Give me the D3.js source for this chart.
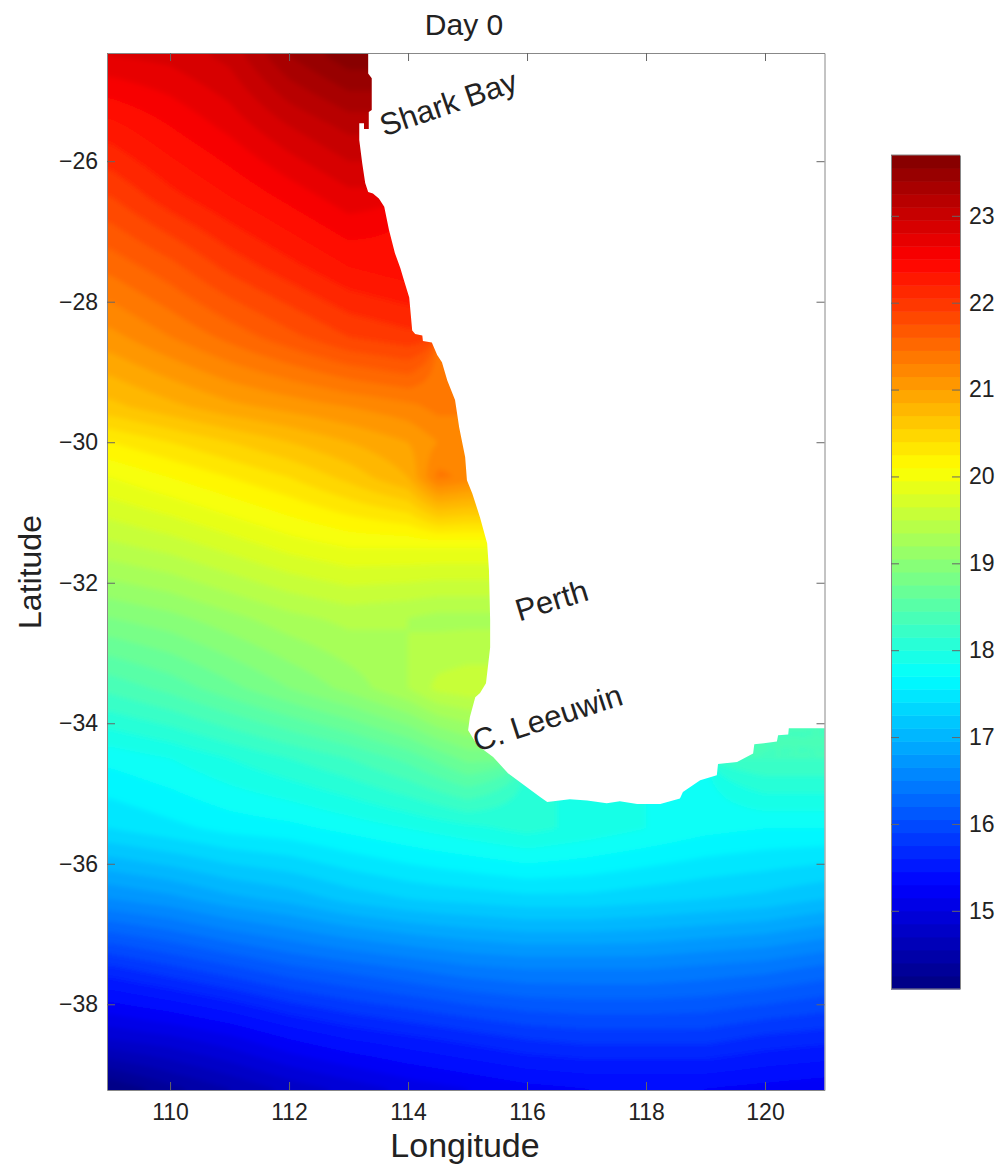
<!DOCTYPE html>
<html lang="en">
<head>
<meta charset="UTF-8">
<title>Day 0</title>
<script src="https://d3js.org/d3.v7.min.js"></script>
<style>
    body { margin: 0; background: #fff; font-family: "Liberation Sans", Arial, sans-serif; }
    svg { display: block; }
    text { fill: #222; }
    .axis path { stroke: #888; }
    .axis line { stroke: #666; }
    .axis text { font-size: 23px; font-family: "Liberation Sans", Arial, sans-serif; fill: #222; }
</style>
</head>
<body>
<div id="chart"></div>
<script>
// temperature, null = land
const lons = [109, 110, 111, 112, 113, 114, 114.5, 115, 116, 117, 118, 119, 120, 121];
const lats = [-24.5, -25.5, -26.5, -27.5, -28.5, -29.5, -30, -30.5, -31.5, -32.5, -33.5, -34.5, -35.5, -36.5, -37.5, -38.5, -39.2];
const n = null;
const tempRows = [
    [22.8, 22.85, 23.0, 23.4, 23.65, n, n, n, n, n, n, n, n, n],
    [22.3, 22.5, 22.7, 22.95, 23.15, n, n, n, n, n, n, n, n, n],
    [21.9, 22.15, 22.35, 22.55, 22.75, n, n, n, n, n, n, n, n, n],
    [21.5, 21.7, 21.95, 22.15, 22.35, 22.45, n, n, n, n, n, n, n, n],
    [21.1, 21.3, 21.5, 21.7, 21.9, 22.0, n, n, n, n, n, n, n, n],
    [20.65, 20.8, 20.95, 21.05, 21.15, 21.25, 21.35, n, n, n, n, n, n, n],
    [20.25, 20.4, 20.55, 20.7, 20.85, 21.0, 21.15, 21.3, n, n, n, n, n, n],
    [19.95, 20.1, 20.25, 20.4, 20.6, 20.85, 21.35, 21.25, n, n, n, n, n, n],
    [19.45, 19.55, 19.7, 19.85, 19.95, 19.95, 19.95, 19.95, n, n, n, n, n, n],
    [18.9, 19.0, 19.15, 19.3, 19.4, 19.35, 19.3, 19.3, n, n, n, n, n, n],
    [18.35, 18.5, 18.7, 18.9, 19.1, 19.35, 19.55, 19.6, n, n, n, n, n, n],
    [17.75, 17.85, 18.0, 18.15, 18.3, 18.5, 18.65, 18.8, n, n, n, n, 18.3, 18.3],
    [17.4, 17.5, 17.6, 17.65, 17.75, 17.85, 17.9, 17.95, 18.05, 17.95, 17.85, 17.75, 17.7, 17.7],
    [16.65, 16.75, 16.9, 17.0, 17.15, 17.25, 17.28, 17.3, 17.35, 17.35, 17.3, 17.25, 17.2, 17.1],
    [15.7, 15.85, 16.0, 16.15, 16.25, 16.35, 16.4, 16.45, 16.5, 16.5, 16.5, 16.45, 16.4, 16.3],
    [14.85, 14.95, 15.1, 15.3, 15.45, 15.55, 15.6, 15.65, 15.75, 15.8, 15.8, 15.8, 15.7, 15.65],
    [14.1, 14.35, 14.55, 14.75, 14.9, 15.05, 15.1, 15.15, 15.25, 15.3, 15.3, 15.3, 15.25, 15.2]
];

// coastline, north to south then east along the south coast
const coast = [
    [113.33, -24.46], [113.33, -24.75], [113.39, -24.82], [113.39, -25.27], [113.34, -25.30], [113.34, -25.54],
    [113.26, -25.54], [113.26, -25.46], [113.18, -25.46], [113.18, -25.70], [113.23, -26.03], [113.28, -26.31],
    [113.33, -26.44], [113.41, -26.46], [113.51, -26.53], [113.60, -26.65], [113.68, -26.98], [113.78, -27.31],
    [113.87, -27.52], [113.93, -27.69], [114.02, -27.94], [114.07, -28.41], [114.12, -28.46], [114.24, -28.48],
    [114.25, -28.56], [114.40, -28.58], [114.49, -28.76], [114.57, -28.86], [114.66, -29.12], [114.79, -29.40],
    [114.86, -29.79], [114.96, -30.21], [114.99, -30.54], [115.08, -30.73], [115.21, -31.07], [115.33, -31.44],
    [115.36, -31.82], [115.38, -32.53], [115.38, -32.92], [115.31, -33.43], [115.21, -33.57], [115.13, -33.63],
    [115.04, -33.91], [115.01, -34.10], [115.16, -34.31], [115.43, -34.48], [115.68, -34.71], [116.22, -35.05],
    [116.34, -35.12], [116.72, -35.08], [117.01, -35.10], [117.34, -35.14], [117.56, -35.11], [117.85, -35.15],
    [118.24, -35.15], [118.57, -35.07], [118.62, -34.98], [118.91, -34.81], [119.19, -34.74], [119.21, -34.58],
    [119.53, -34.55], [119.80, -34.43], [119.82, -34.30], [120.20, -34.26], [120.22, -34.17], [120.39, -34.16],
    [120.40, -34.07], [121, -34.07]
];

const lonTicks = [110, 112, 114, 116, 118, 120];
const latTicks = [-26, -28, -30, -32, -34, -36, -38];
const barTicks = [15, 16, 17, 18, 19, 20, 21, 22, 23];
const places = [
    { name: "Shark Bay", lon: 113.60, lat: -25.65, angle: -19 },
    { name: "Perth", lon: 115.87, lat: -32.55, angle: -17 },
    { name: "C. Leeuwin", lon: 115.16, lat: -34.41, angle: -18 }
];

const lonExtent = [108.94, 121], latExtent = [-24.46, -39.22], tempExtent = [14.1, 23.7];

const svg = d3.select("#chart").append("svg").attr("width", 1003).attr("height", 1170);
const x = d3.scaleLinear().domain(lonExtent).range([107, 824.5]);
const y = d3.scaleLinear().domain(latExtent).range([53, 1090]);
const barY = d3.scaleLinear().domain(tempExtent).range([989, 155]);

// matlab jet, 64 steps
const jet = d3.scaleLinear()
    .domain([0, 1 / 8, 3 / 8, 5 / 8, 7 / 8, 1])
    .range(["#000080", "#0000ff", "#00ffff", "#ffff00", "#ff0000", "#800000"]);
const levelCount = 64;
const step = (tempExtent[1] - tempExtent[0]) / levelCount;
const levels = d3.range(levelCount).map(i => tempExtent[0] + i * step);
const levelColor = i => jet((i + 0.5) / levelCount);

// sea nodes, for filling land cells so the contours have no holes
const seaNodes = [];
tempRows.forEach((row, j) => row.forEach((v, i) => { if (v !== null) seaNodes.push({ lon: lons[i], lat: lats[j], v }); }));

function tempAt(lon, lat) {
    const i = Math.min(Math.max(d3.bisectRight(lons, lon) - 1, 0), lons.length - 2);
    // lats go downwards so walk the rows
    let j = 0;
    while (j < lats.length - 2 && lat < lats[j + 1]) j++;
    const tx = Math.min(Math.max((lon - lons[i]) / (lons[i + 1] - lons[i]), 0), 1);
    const ty = Math.min(Math.max((lat - lats[j]) / (lats[j + 1] - lats[j]), 0), 1);
    const corners = [
        [tempRows[j][i], (1 - tx) * (1 - ty)], [tempRows[j][i + 1], tx * (1 - ty)],
        [tempRows[j + 1][i], (1 - tx) * ty], [tempRows[j + 1][i + 1], tx * ty]
    ].filter(c => c[0] !== null);
    const w = d3.sum(corners, c => c[1]);
    if (w > 0) return d3.sum(corners, c => c[0] * c[1]) / w;
    return d3.least(seaNodes, d => (d.lon - lon) ** 2 + (d.lat - lat) ** 2).v;
}

// sample the field about every 2px and let d3.contours make the colour bands
// pad runs past the frame so the blur does not fade at the edges
const cols = 360, rows = 520, pad = 8;
const dLon = (lonExtent[1] - lonExtent[0]) / cols, dLat = (latExtent[1] - latExtent[0]) / rows;
const lon0 = lonExtent[0] - pad * dLon, lat0 = latExtent[0] - pad * dLat;
const gridW = cols + 2 * pad, gridH = rows + 2 * pad;
const field = new Float64Array(gridW * gridH);
for (let r = 0; r < gridH; r++) {
    for (let c = 0; c < gridW; c++) {
        field[r * gridW + c] = tempAt(lon0 + (c + 0.5) * dLon, lat0 + (r + 0.5) * dLat);
    }
}
const bands = d3.contours().size([gridW, gridH]).thresholds(levels)(field);
const toScreen = d3.geoTransform({
    point(px, py) { this.stream.point(x(lon0 + px * dLon), y(lat0 + py * dLat)); }
});
const bandPath = d3.geoPath(toScreen);

const line = d3.line().x(d => x(d[0])).y(d => y(d[1]));
const seaOutline = [[lonExtent[0], latExtent[0]], ...coast, [lonExtent[1], latExtent[1]], [lonExtent[0], latExtent[1]]];
const defs = svg.append("defs");
defs.append("clipPath").attr("id", "sea").append("path").attr("d", line(seaOutline) + "Z");
defs.append("filter").attr("id", "soft")
    .attr("filterUnits", "userSpaceOnUse").attr("x", 0).attr("y", 0).attr("width", 1003).attr("height", 1170)
    .append("feGaussianBlur").attr("stdDeviation", 2.5);

const sea = svg.append("g").attr("clip-path", "url(#sea)").append("g").attr("filter", "url(#soft)");
sea.append("rect").attr("x", x(lon0)).attr("y", y(lat0))
    .attr("width", x(lon0 + gridW * dLon) - x(lon0)).attr("height", y(lat0 + gridH * dLat) - y(lat0))
    .attr("fill", levelColor(0));
sea.selectAll("path").data(bands).enter().append("path")
    .attr("d", bandPath)
    .attr("fill", (d, i) => levelColor(i));

// box with ticks pointing in on all four sides
const tickLen = 8;
svg.append("g").attr("class", "axis").attr("transform", `translate(0,${y.range()[1]})`)
    .call(d3.axisBottom(x).tickValues(lonTicks).tickSizeInner(-tickLen).tickSizeOuter(0).tickPadding(14));
svg.append("g").attr("class", "axis").attr("transform", `translate(0,${y.range()[0]})`)
    .call(d3.axisTop(x).tickValues(lonTicks).tickSizeInner(-tickLen).tickSizeOuter(0).tickFormat(""));
svg.append("g").attr("class", "axis").attr("transform", `translate(${x.range()[0]},0)`)
    .call(d3.axisLeft(y).tickValues(latTicks).tickSizeInner(-tickLen).tickSizeOuter(0).tickPadding(9));
svg.append("g").attr("class", "axis").attr("transform", `translate(${x.range()[1]},0)`)
    .call(d3.axisRight(y).tickValues(latTicks).tickSizeInner(-tickLen).tickSizeOuter(0).tickFormat(""));

svg.append("text").attr("x", 464).attr("y", 35).attr("text-anchor", "middle")
    .style("font-size", "30px").text("Day 0");
svg.append("text").attr("x", 465).attr("y", 1157).attr("text-anchor", "middle")
    .style("font-size", "34px").text("Longitude");
svg.append("text").attr("transform", "translate(41,572) rotate(-90)").attr("text-anchor", "middle")
    .style("font-size", "32px").text("Latitude");

svg.selectAll(".place").data(places).enter().append("text")
    .attr("class", "place")
    .attr("transform", d => `translate(${x(d.lon)},${y(d.lat)}) rotate(${d.angle})`)
    .style("font-size", "31px")
    .text(d => d.name);

// colour bar
const barLeft = 891, barRight = 960;
const bar = svg.append("g");
bar.selectAll("rect").data(levels).enter().append("rect")
    .attr("x", barLeft).attr("width", barRight - barLeft)
    .attr("y", d => barY(d + step))
    .attr("height", d => barY(d) - barY(d + step) + 0.5)
    .attr("fill", (d, i) => levelColor(i));
svg.append("g").attr("class", "axis").attr("transform", `translate(${barRight},0)`)
    .call(d3.axisRight(barY).tickValues(barTicks).tickSizeInner(-8).tickSizeOuter(0).tickPadding(9));
svg.append("g").attr("class", "axis").attr("transform", `translate(${barLeft},0)`)
    .call(d3.axisLeft(barY).tickValues(barTicks).tickSizeInner(-8).tickSizeOuter(0).tickFormat(""));
svg.append("line").attr("x1", barLeft).attr("x2", barRight).attr("y1", barY.range()[1]).attr("y2", barY.range()[1]).attr("stroke", "#888");
svg.append("line").attr("x1", barLeft).attr("x2", barRight).attr("y1", barY.range()[0]).attr("y2", barY.range()[0]).attr("stroke", "#888");
</script>
</body>
</html>
